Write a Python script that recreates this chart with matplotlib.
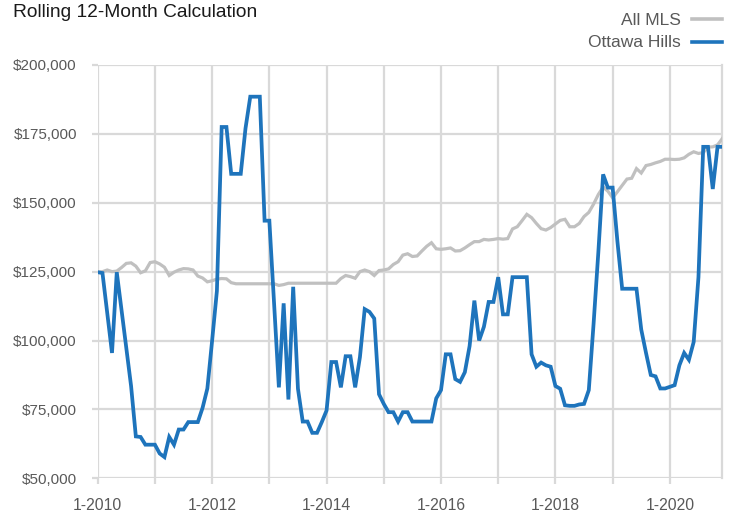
import matplotlib
matplotlib.use("Agg")
import matplotlib.pyplot as plt
from matplotlib.lines import Line2D
import numpy as np

plt.rcParams['font.family'] = ['Liberation Sans', 'DejaVu Sans']

title = "Rolling 12-Month Calculation"
series_names = ["All MLS", "Ottawa Hills"]
start_year = 2010
tick_labels = ["1-2010", "", "1-2012", "", "1-2014", "", "1-2016", "", "1-2018", "", "1-2020"]
y_ticks = [50000, 75000, 100000, 125000, 150000, 175000, 200000]

# values in thousands of dollars, monthly Jan 2010 .. Dec 2020
all_mls = [
    124.8, 125.0, 125.6, 125.0, 125.2, 126.5, 128.0, 128.2, 127.0, 124.6, 125.3, 128.3,
    128.6, 127.8, 126.6, 123.6, 124.8, 125.6, 126.1, 126.0, 125.6, 123.4, 122.7, 121.3,
    121.7, 122.3, 122.5, 122.4, 121.0, 120.6, 120.6, 120.6, 120.6, 120.6, 120.6, 120.6,
    120.6, 120.6, 120.0, 120.3, 120.8, 120.8, 120.8, 120.8, 120.8, 120.8, 120.8, 120.8,
    120.8, 120.8, 120.8, 122.5, 123.6, 123.2, 122.6, 125.0, 125.6, 125.0, 123.6, 125.4,
    125.6, 126.0, 127.6, 128.6, 131.0, 131.5, 130.5, 130.7, 132.5, 134.2, 135.5, 133.3,
    133.1, 133.3, 133.6, 132.5, 132.6, 133.6, 134.8, 135.9, 135.9, 136.7, 136.5, 136.7,
    137.0, 136.8, 137.0, 140.5, 141.3, 143.5, 145.8, 144.6, 142.5, 140.6, 140.1, 141.0,
    142.3, 143.6, 144.0, 141.3, 141.3, 142.5, 145.0, 146.5, 149.5, 153.0, 155.7, 154.2,
    151.8, 154.0, 156.3, 158.6, 158.9, 162.4, 160.8, 163.5, 163.9, 164.5, 165.0, 165.8,
    165.8, 165.7, 165.8, 166.3, 167.6, 168.5, 167.9, 168.2, 170.2, 170.3, 171.0, 173.3,
]
ottawa_hills = [
    124.8, 124.5, 110.0, 95.5, 124.8, 111.0, 97.0, 83.5, 65.2, 65.0, 62.2, 62.2,
    62.2, 59.0, 57.7, 65.0, 62.2, 67.7, 67.7, 70.4, 70.4, 70.4, 75.6, 82.6,
    100.0, 118.0, 177.5, 177.5, 160.5, 160.5, 160.5, 177.0, 188.5, 188.5, 188.5, 143.5,
    143.5, 113.0, 83.0, 113.5, 78.6, 119.5, 82.5, 70.6, 70.6, 66.5, 66.5, 70.4,
    74.6, 92.2, 92.2, 83.0, 94.3, 94.3, 83.0, 94.0, 111.4, 110.4, 108.0, 80.5,
    77.0, 74.0, 74.0, 70.6, 74.0, 74.0, 70.6, 70.6, 70.6, 70.6, 70.6, 79.0,
    82.0, 95.0, 95.0, 86.0, 85.0, 88.5, 98.0, 114.5, 100.0, 105.0, 114.0, 114.0,
    123.0, 109.5, 109.5, 123.0, 123.0, 123.0, 123.0, 95.0, 90.5, 92.0, 91.0, 90.5,
    83.5, 82.5, 76.5, 76.3, 76.3, 76.8, 77.0, 82.0, 106.0, 132.0, 160.3, 155.5,
    155.5, 136.0, 118.8, 118.8, 118.8, 118.8, 104.0, 95.5, 87.5, 87.0, 82.6, 82.6,
    83.2, 83.8, 91.0, 95.5, 93.0, 99.5, 123.0, 170.3, 170.3, 155.0, 170.3, 170.3,
]

W, H = 732, 514
fig = plt.figure(figsize=(W / 100, H / 100), dpi=100)
ax = fig.add_axes([97.7 / W, 1 - 478.3 / H, (722.3 - 97.7) / W, (478.3 - 65) / H])

months = np.arange(len(all_mls))
grid_c = "#d9d9d9"
ax.plot(months, np.array(all_mls) * 1000, color="#c0c0c0", lw=2.3, solid_joinstyle="miter", zorder=3)
ax.plot(months, np.array(ottawa_hills) * 1000, color="#1e74bc", lw=2.7, solid_joinstyle="miter", zorder=4)

ax.set_xlim(0, len(all_mls) - 1)
ax.set_ylim(y_ticks[0], y_ticks[-1])
ax.set_xticks(np.arange(0, 12 * len(tick_labels), 12))
ax.set_xticklabels(tick_labels)
ax.set_yticks(y_ticks)
ax.set_yticklabels([f"${v:,.0f}" for v in y_ticks])
ax.grid(True, color=grid_c, lw=1.6, zorder=0)
ax.set_axisbelow(True)
for s in ["top", "left", "bottom"]:
    ax.spines[s].set_visible(False)
ax.spines["right"].set_color(grid_c)
ax.spines["right"].set_linewidth(1.6)
ax.tick_params(axis="both", length=4.5, width=1.6, color=grid_c, labelcolor="#595959")
ax.tick_params(axis="y", pad=10.5, labelsize=11)
ax.tick_params(axis="x", pad=9.5, labelsize=11.3)

fig.text(13 / W, 1 - 16.8 / H, title, ha="left", va="baseline", fontsize=13.8, color="#1a1a1a")

leg_colors = ["#c0c0c0", "#1e74bc"]
leg_base = [25, 46.7]
leg_y = [19, 42]
for name, c, yb, yy in zip(series_names, leg_colors, leg_base, leg_y):
    fig.text(681 / W, 1 - yb / H, name, ha="right", va="baseline", fontsize=12.5, color="#595959")
    fig.add_artist(Line2D([692 / W, 722 / W], [1 - yy / H, 1 - yy / H], color=c, lw=2.6, transform=fig.transFigure))

fig.savefig("out.png", dpi=100)
